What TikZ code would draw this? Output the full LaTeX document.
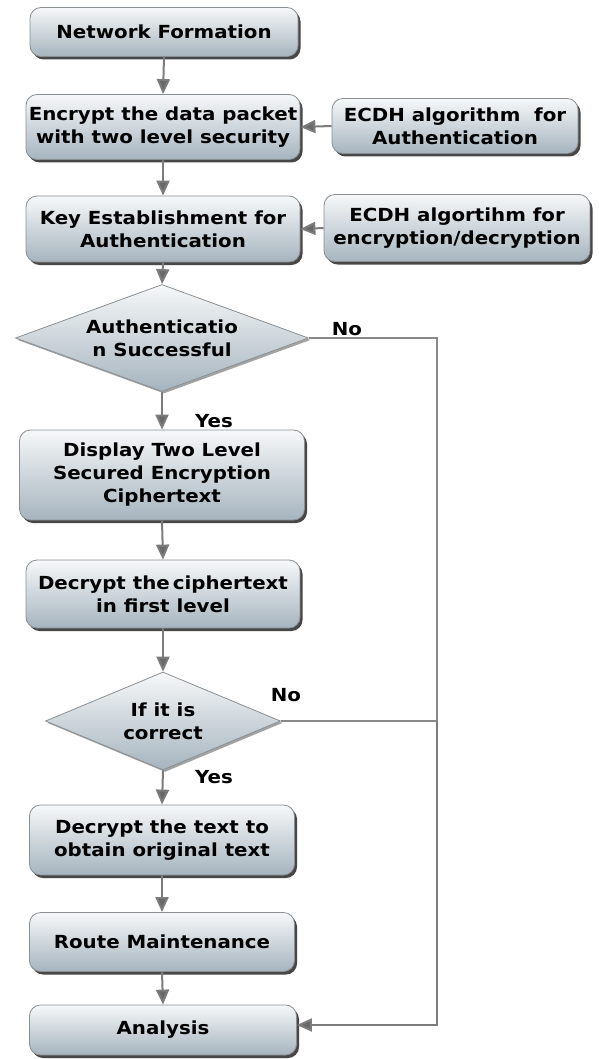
\documentclass[tikz,border=0pt]{standalone}
\usepackage{fontspec}
\newfontfamily\vf{DejaVu Sans Bold}[FakeStretch=1.1]
\usetikzlibrary{shapes.geometric,arrows.meta,shadows}
\definecolor{boxtop}{HTML}{F6F8F9}
\definecolor{boxbot}{HTML}{A6B4BE}
\definecolor{boxline}{HTML}{8A8F93}
\definecolor{conn}{HTML}{7C7C7C}
\begin{document}
\begin{tikzpicture}[x=1pt,y=-1pt,
  every node/.style={font=\vf\fontsize{18}{23}\selectfont, text=black},
  box/.style={rectangle, rounded corners=11pt, draw=boxline, line width=0.8pt,
    top color=boxtop, bottom color=boxbot, align=center, inner sep=2pt,
    drop shadow={shadow xshift=2.5pt, shadow yshift=-3pt, fill=black!80, opacity=0.9}},
  dia/.style={diamond, draw=boxline, line width=0.8pt, top color=boxtop, bottom color=boxbot,
    align=center, inner sep=0pt,
    drop shadow={shadow xshift=2pt, shadow yshift=-2pt, fill=black!60, opacity=0.6}},
  arr/.style={draw=conn, line width=2pt, -{Triangle[length=15pt,width=13pt,fill=conn!85!black]}},
  ln/.style={draw=conn!90, line width=1.8pt},
  lbl/.style={font=\vf\fontsize{18}{23}\selectfont}
]
\useasboundingbox[fill=white] (0,0) rectangle (599,1059);

\node[box, minimum width=268pt, minimum height=49pt] (nf) at (164,32) {Network Formation};
\node[box, minimum width=274pt, minimum height=65pt] (enc) at (163,127) {Encrypt the data packet\\with two level security};
\node[box, minimum width=246pt, minimum height=55pt] (ea) at (455,126) {ECDH algorithm\ \ for\\Authentication};
\node[box, minimum width=274pt, minimum height=66pt] (key) at (163,229) {Key Establishment for\\Authentication};
\node[box, minimum width=266pt, minimum height=67pt] (eb) at (457,228) {ECDH algortihm for\\encryption/decryption};
\node[dia, minimum width=293pt, minimum height=107pt, shape aspect=2.74] (d1) at (162,338) {Authenticatio\\n Successful};
\node[box, minimum width=285pt, minimum height=90pt] (disp) at (162,475) {Display Two Level\\Secured Encryption\\Ciphertext};
\node[box, minimum width=274pt, minimum height=68pt] (dc1) at (163,594) {Decrypt the\,ciphertext\\in first level};
\node[dia, minimum width=235pt, minimum height=98pt, shape aspect=2.4] (d2) at (163,721) {If it is\\correct};
\node[box, minimum width=265pt, minimum height=70pt] (dc2) at (162,840) {Decrypt the text to\\obtain original text};
\node[box, minimum width=265pt, minimum height=59pt] (rm) at (162,942) {Route Maintenance};
\node[box, minimum width=267pt, minimum height=50pt] (an) at (163,1030) {Analysis};

\node[lbl] (no1) at (347,329) {No};
\node[lbl] (no2) at (286,695) {No};
\node[lbl] (y1) at (214,421) {Yes};
\node[lbl] (y2) at (214,777) {Yes};

\coordinate (c1) at (437,338);
\coordinate (c2) at (437,721);
\coordinate (c3) at (437,1025);

\draw[arr] (nf.south) -- (enc.north);
\draw[arr] (ea.west) -- (enc.east);
\draw[arr] (enc.south) -- (key.north);
\draw[arr] (eb.west) -- (key.east);
\draw[arr] (key.south) -- (d1.north);
\draw[arr] (d1.south) -- (disp.north);
\draw[arr] (disp.south) -- (dc1.north);
\draw[arr] (dc1.south) -- (d2.north);
\draw[arr] (d2.south) -- (dc2.north);
\draw[arr] (dc2.south) -- (rm.north);
\draw[arr] (rm.south) -- (an.north);
\draw[ln] (d1.east) -- (c1) -- (c2);
\draw[ln] (d2.east) -- (c2);
\draw[arr] (c2) -- (c3) -- (an.east |- c3);
\end{tikzpicture}
\end{document}
